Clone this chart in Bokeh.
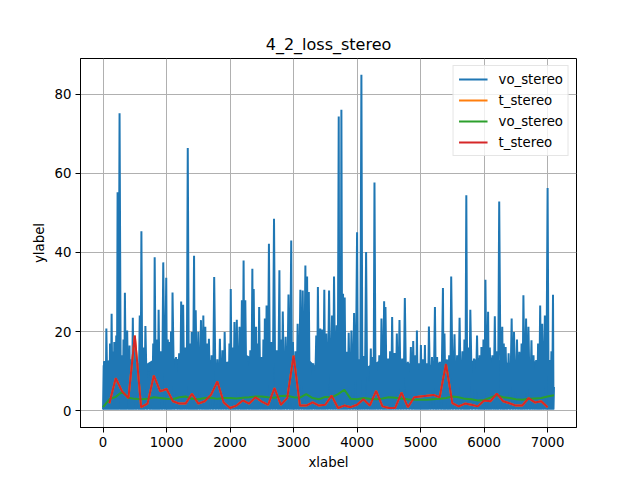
import numpy as np
from bokeh.plotting import figure
from bokeh.models import Range1d, FixedTicker, Legend, LegendItem
from bokeh.embed import file_html
from bokeh.resources import INLINE

# vo_stereo (raw): visible spike tops
vo_peak_x = [10, 30, 52, 90, 110, 135, 160, 177, 208, 229, 260, 300, 322, 344, 380, 417, 440, 469, 500, 540,
             578, 604, 635, 667, 720, 760, 790, 813, 850, 875, 910, 948, 995, 1020, 1042, 1070, 1094, 1150, 1198,
             1230, 1261, 1300, 1334, 1370, 1396, 1433, 1459, 1500, 1542, 1579, 1610, 1640, 1667, 1710,
             1750, 1800, 1840, 1880, 1915, 1960, 1990, 2011, 2040, 2069, 2106, 2149, 2186, 2213, 2240,
             2280, 2319, 2351, 2372, 2410, 2430, 2458, 2500, 2525, 2548, 2575, 2612, 2650, 2692, 2735,
             2777, 2800, 2830, 2875, 2920, 2963, 2990, 3030, 3064, 3107, 3144, 3186, 3213, 3240,
             3270, 3310, 3357, 3383, 3420, 3450, 3484, 3515, 3559, 3606, 3637, 3679, 3711,
             3730, 3753, 3779, 3805, 3835, 3868, 3911, 3953, 4000, 4030, 4068, 4100, 4142,
             4180, 4216, 4245, 4274, 4310, 4350, 4384, 4426, 4447, 4490, 4520, 4552, 4590,
             4626, 4668, 4710, 4752, 4800, 4847, 4884, 4920, 4942, 4970, 5005, 5040, 5068,
             5100, 5131, 5180, 5226, 5260, 5300, 5352, 5376, 5413, 5450, 5482, 5534, 5575,
             5614, 5660, 5690, 5720, 5750, 5783, 5841, 5889, 5930, 5958, 5990, 6021, 6063, 6090, 6130,
             6169, 6200, 6238, 6286, 6310, 6339, 6386, 6434, 6471, 6518, 6555, 6590, 6619, 6661, 6698,
             6746, 6778, 6820, 6850, 6883, 6915, 6957, 7000, 7032, 7060, 7085, 7100]
vo_peak_y = [11.5, 10.5, 20.8, 12.0, 17.0, 24.5, 15.0, 17.4, 19.0, 55.2, 75.2, 14.0, 18.0, 29.8, 20.3, 16.5, 13.0, 23.5, 18.7, 12.0,
             24.1, 45.4, 16.0, 21.4, 10.0, 12.0, 17.0, 38.8, 18.0, 25.5, 15.0, 37.5, 33.6, 18.0, 17.4, 20.0, 29.9, 13.6, 14.5,
             27.6, 26.8, 16.0, 66.4, 17.0, 19.9, 39.2, 25.4, 19.9, 22.9, 24.1, 21.2, 17.0, 18.2, 14.0,
             33.8, 13.0, 18.2, 15.3, 19.9, 11.9, 17.0, 30.8, 16.0, 22.4, 23.0, 21.2, 27.9, 38.0, 27.9,
             12.4, 15.3, 35.9, 30.8, 21.2, 17.0, 26.2, 13.6, 18.0, 23.3, 26.6, 42.2, 17.4, 48.5, 15.3,
             35.5, 18.0, 25.1, 18.7, 29.4, 43.0, 17.4, 15.0, 22.0, 30.6, 30.4, 36.7, 33.9, 30.0,
             10.7, 12.0, 19.0, 31.3, 20.8, 20.5, 30.6, 19.5, 30.4, 24.1, 33.9, 21.6, 74.4,
             30.0, 76.1, 29.6, 28.6, 14.9, 19.7, 20.3, 24.7, 45.1, 13.0, 84.9, 13.8, 40.1,
             7.3, 15.7, 13.6, 57.7, 11.5, 14.0, 23.3, 27.7, 26.2, 13.2, 15.0, 23.7, 14.6,
             19.5, 22.9, 13.2, 28.5, 12.4, 16.1, 17.6, 14.0, 20.3, 10.3, 16.6, 13.0, 16.6,
             12.0, 21.3, 13.6, 26.2, 13.6, 12.4, 31.0, 19.5, 11.9, 14.0, 33.9, 19.3, 14.0,
             23.5, 15.0, 18.0, 54.5, 16.0, 25.5, 13.2, 19.0, 14.0, 16.1, 18.0, 33.1, 25.0, 16.0, 14.0,
             23.9, 15.0, 52.9, 21.2, 17.0, 16.1, 14.5, 23.3, 19.9, 18.0, 14.9, 17.0, 29.2, 23.3, 21.2,
             17.8, 14.0, 12.8, 17.0, 26.6, 22.0, 24.1, 56.3, 12.8, 15.0, 29.3, 6.0]
vo_floor = 0.3

# solid body of the noisy curve
vo_band_x = [0, 200, 400, 600, 800, 1000, 1200, 1400, 1600, 1800, 2000, 2200, 2400, 2600,
             2800, 3000, 3200, 3400, 3600, 3800, 4000, 4200, 4400, 4600, 4800, 5000, 5200,
             5400, 5600, 5800, 6000, 6200, 6400, 6600, 6800, 7000, 7100]
vo_band_top = [12.5, 13.0, 12.0, 11.0, 13.0, 13.5, 13.0, 13.0, 13.5, 12.0, 12.5, 14.5, 13.0, 14.0,
               13.5, 14.0, 13.5, 10.5, 11.0, 10.5, 10.0, 11.5, 13.0, 13.0, 12.0, 12.0, 11.5,
               13.0, 12.5, 12.5, 14.0, 13.0, 12.0, 13.0, 12.5, 12.0, 11.0]

# vo_stereo (smoothed)
vo_smooth_x = list(range(0, 7101, 100))
vo_smooth = [0.9, 2.9, 3.5, 4.8, 3.3, 3.0, 2.9, 3.0, 3.4, 3.2, 3.0, 2.9, 3.4, 3.6, 3.0, 2.9,
             3.2, 3.3, 3.0, 3.2, 3.2, 3.1, 3.3, 3.4, 3.6, 3.6, 3.4, 3.3, 3.7, 3.8, 3.4, 3.3,
             4.2, 3.2, 2.9, 3.5, 3.4, 4.2, 5.3, 3.0, 2.9, 3.2, 3.0, 2.9, 3.1, 3.4, 3.3, 3.1,
             2.9, 2.8, 2.8, 2.8, 2.9, 3.0, 3.2, 3.6, 3.4, 3.0, 2.9, 2.6, 2.7, 3.3, 3.9, 3.4,
             3.2, 2.9, 2.8, 3.0, 3.1, 3.2, 3.6, 3.9]

# t_stereo, every 100 steps
t_x = list(range(100, 7001, 100))
t_stereo = [1.9, 8.2, 4.9, 3.2, 19.0, 0.9, 1.8, 8.9, 4.9, 5.5, 2.4, 1.8, 1.8, 4.3, 1.8, 2.4,
            4.0, 7.4, 2.1, 0.7, 1.3, 2.6, 1.8, 3.4, 2.3, 1.5, 5.7, 1.5, 3.2, 13.9, 1.3, 1.3,
            2.1, 1.3, 1.5, 3.8, 0.7, 1.3, 0.9, 1.5, 2.9, 1.3, 5.0, 1.1, 0.7, 0.7, 4.6, 0.9,
            3.4, 3.6, 3.8, 4.0, 3.4, 11.8, 1.9, 1.1, 1.8, 1.5, 1.1, 2.6, 2.4, 4.3, 2.4, 1.9,
            1.3, 1.3, 3.2, 2.1, 2.4, 0.9]

x_ticks = [0, 1000, 2000, 3000, 4000, 5000, 6000, 7000]
y_ticks = [0, 20, 40, 60, 80]

# interleave spikes with drops to the floor
px = np.array(vo_peak_x, dtype=float)
py = np.array(vo_peak_y, dtype=float)
mid = (px[:-1] + px[1:]) / 2
raw_x = np.empty(len(px) * 2 - 1)
raw_y = np.empty(len(px) * 2 - 1)
raw_x[0::2] = px
raw_y[0::2] = py
raw_x[1::2] = mid
raw_y[1::2] = vo_floor
raw_x = np.concatenate([[0], raw_x])
raw_y = np.concatenate([[vo_floor], raw_y])

FONT = "DejaVu Sans"

p = figure(width=640, height=480,
           x_range=Range1d(-355, 7455), y_range=Range1d(-4.24, 89.04),
           title="4_2_loss_stereo", x_axis_label="xlabel", y_axis_label="ylabel",
           output_backend="svg", toolbar_location=None,
           min_border_left=80, min_border_right=64, min_border_top=58, min_border_bottom=53)

p.title.align = "center"
p.title.text_font = FONT
p.title.text_font_size = "16px"
p.title.text_font_style = "normal"
p.title.text_color = "black"

p.outline_line_color = "black"
p.outline_line_alpha = 1
p.outline_line_width = 1

for ax in (p.xaxis[0], p.yaxis[0]):
    ax.axis_line_color = "black"
    ax.major_tick_line_color = "black"
    ax.major_tick_out = 5
    ax.major_tick_in = 0
    ax.minor_tick_line_color = None
    ax.major_label_standoff = 4
    ax.axis_label_standoff = 5
    ax.major_label_text_font = FONT
    ax.major_label_text_font_size = "13.3px"
    ax.major_label_text_color = "black"
    ax.axis_label_text_font = FONT
    ax.axis_label_text_font_size = "13.3px"
    ax.axis_label_text_font_style = "normal"
    ax.axis_label_text_color = "black"

p.xaxis.ticker = FixedTicker(ticks=x_ticks)
p.yaxis.ticker = FixedTicker(ticks=y_ticks)

p.grid.grid_line_color = "#b0b0b0"
p.grid.grid_line_alpha = 1
p.grid.grid_line_width = 1

p.varea(x=vo_band_x, y1=vo_floor, y2=vo_band_top, color="#1f77b4")
r_vo = p.line(raw_x, raw_y, line_color="#1f77b4", line_width=2)
r_t1 = p.line(t_x, t_stereo, line_color="#ff7f0e", line_width=2)
r_vo2 = p.line(vo_smooth_x, vo_smooth, line_color="#2ca02c", line_width=2)
r_t2 = p.line(t_x, t_stereo, line_color="#d62728", line_width=2)

legend = Legend(items=[
    LegendItem(label="vo_stereo", renderers=[r_vo]),
    LegendItem(label="t_stereo", renderers=[r_t1]),
    LegendItem(label="vo_stereo", renderers=[r_vo2]),
    LegendItem(label="t_stereo", renderers=[r_t2]),
], location="top_right")
legend.margin = 7
legend.padding = 5
legend.spacing = 5
legend.glyph_width = 29
legend.glyph_height = 16
legend.label_height = 16
legend.label_standoff = 11
legend.label_text_font = FONT
legend.label_text_font_size = "13.3px"
legend.label_text_color = "black"
legend.border_line_color = "#cccccc"
legend.border_line_width = 1
legend.background_fill_alpha = 0.8
p.add_layout(legend)

open("out.html", "w").write(file_html(p, INLINE))
